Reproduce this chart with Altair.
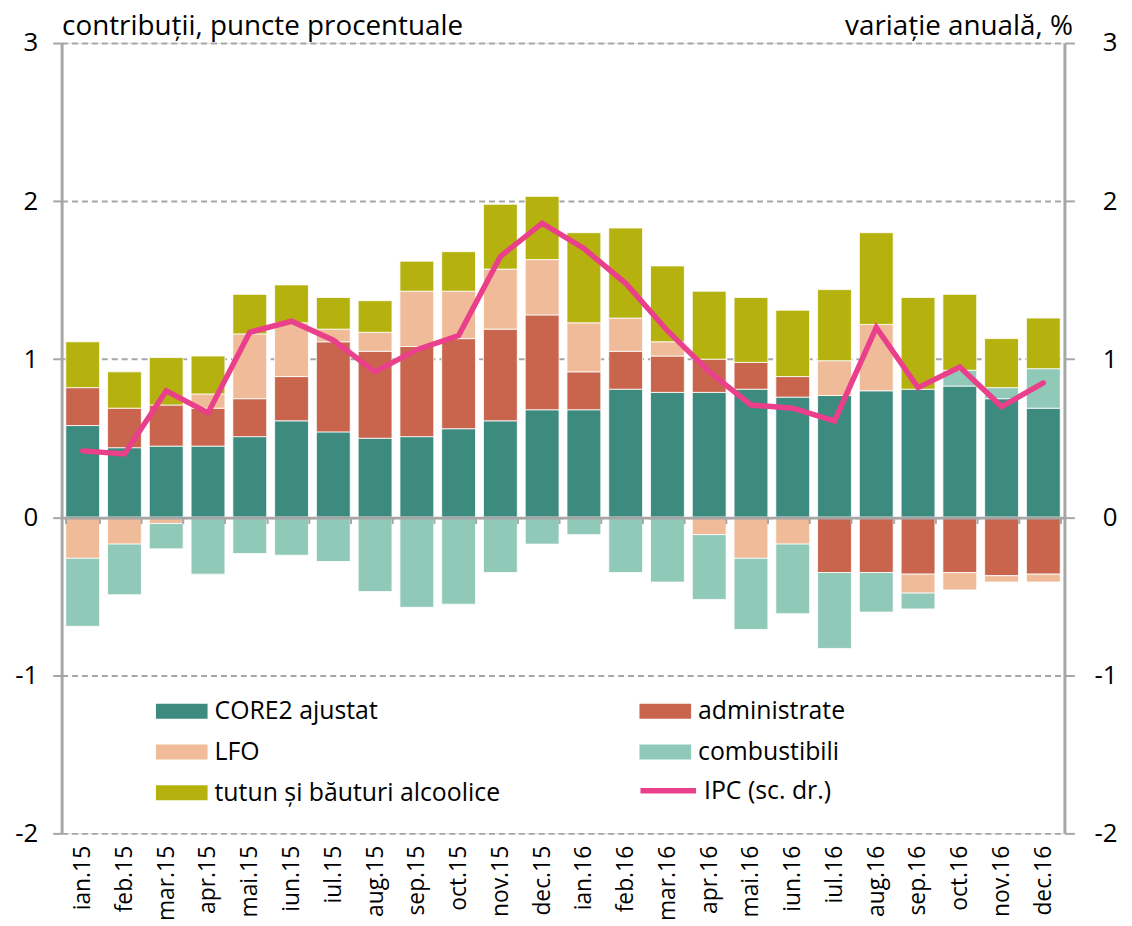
import altair as alt
import pandas as pd

months = ["ian.15", "feb.15", "mar.15", "apr.15", "mai.15", "iun.15", "iul.15", "aug.15",
          "sep.15", "oct.15", "nov.15", "dec.15", "ian.16", "feb.16", "mar.16", "apr.16",
          "mai.16", "iun.16", "iul.16", "aug.16", "sep.16", "oct.16", "nov.16", "dec.16"]

series_names = ["CORE2 ajustat", "administrate", "LFO", "combustibili",
                "tutun și băuturi alcoolice"]
series_colors = ["#3d8a7f", "#c8654c", "#efbb98", "#91c9b9", "#b5b20f"]

core2 = [0.58, 0.44, 0.45, 0.45, 0.51, 0.61, 0.54, 0.50, 0.51, 0.56, 0.61, 0.68,
         0.68, 0.81, 0.79, 0.79, 0.81, 0.76, 0.77, 0.80, 0.81, 0.83, 0.75, 0.69]
administrate = [0.24, 0.25, 0.26, 0.24, 0.24, 0.28, 0.57, 0.55, 0.57, 0.57, 0.58, 0.60,
                0.24, 0.24, 0.23, 0.21, 0.17, 0.13, -0.35, -0.35, -0.36, -0.35, -0.37, -0.36]
lfo = [-0.26, -0.17, -0.04, 0.09, 0.41, 0.34, 0.08, 0.12, 0.35, 0.30, 0.38, 0.35,
       0.31, 0.21, 0.09, -0.11, -0.26, -0.17, 0.22, 0.42, -0.12, -0.11, -0.04, -0.05]
combustibili = [-0.43, -0.32, -0.16, -0.36, -0.23, -0.24, -0.28, -0.47, -0.57, -0.55, -0.35, -0.17,
                -0.11, -0.35, -0.41, -0.41, -0.45, -0.44, -0.48, -0.25, -0.10, 0.10, 0.07, 0.25]
tutun = [0.29, 0.23, 0.30, 0.24, 0.25, 0.24, 0.20, 0.20, 0.19, 0.25, 0.41, 0.40,
         0.57, 0.57, 0.48, 0.43, 0.41, 0.42, 0.45, 0.58, 0.58, 0.48, 0.31, 0.32]
ipc = [0.42, 0.40, 0.80, 0.66, 1.17, 1.24, 1.12, 0.92, 1.06, 1.15, 1.65, 1.86,
       1.70, 1.48, 1.18, 0.92, 0.71, 0.69, 0.61, 1.20, 0.82, 0.95, 0.70, 0.85]

y_ticks = [-2, -1, 0, 1, 2, 3]
ipc_label = "IPC (sc. dr.)"

FONT = "Open Sans"
GRAY = "#a6a6a6"

rows = []
for k, (name, vals) in enumerate(zip(series_names, [core2, administrate, lfo, combustibili, tutun])):
    for m, v in zip(months, vals):
        rows.append({"month": m, "series": name, "value": v, "ord": k})
bars_df = pd.DataFrame(rows)
line_df = pd.DataFrame({"month": months, "ipc": ipc, "lbl": ipc_label})

x_enc = alt.X(
    "month:N", sort=months,
    scale=alt.Scale(paddingInner=0.19, paddingOuter=0.1),
    axis=alt.Axis(
        title=None, offset=-318, orient="bottom",
        domainColor=GRAY, domainWidth=3,
        ticks=True, tickBand="extent", tickColor=GRAY, tickWidth=2, tickSize=6,
        labelAngle=-90, labelFont=FONT, labelFontSize=23, labelColor="black",
        labelPadding=324, zindex=1,
    ),
)

bars = alt.Chart(bars_df).mark_bar(stroke="white", strokeWidth=0.8).encode(
    x=x_enc,
    y=alt.Y(
        "value:Q", stack="zero",
        scale=alt.Scale(domain=[-2, 3], nice=False, zero=False),
        axis=alt.Axis(
            values=y_ticks, labelExpr="'' + datum.value", orient="left",
            title="contribuții, puncte procentuale", titleAngle=0, titleAlign="left",
            titleBaseline="alphabetic", titleX=0, titleY=-9,
            titleFont=FONT, titleFontSize=28, titleFontWeight="normal", titleColor="black",
            labelFont=FONT, labelFontSize=26, labelColor="black", labelPadding=15,
            domainColor=GRAY, domainWidth=3, tickColor=GRAY, tickWidth=2, tickSize=9,
            grid=True, gridColor=GRAY, gridDash=[6, 4], gridWidth=2,
        ),
    ),
    color=alt.Color(
        "series:N",
        scale=alt.Scale(domain=series_names, range=series_colors),
        legend=alt.Legend(
            title=None, orient="none", legendX=95, legendY=647, columns=2,
            direction="horizontal",
            columnPadding=140, rowPadding=2, padding=0,
            symbolType="M-1,-0.29H1V0.29H-1Z", symbolSize=2704, symbolStrokeWidth=0,
            symbolOpacity=1, labelFont=FONT, labelFontSize=25, labelColor="black",
            labelOffset=7, labelLimit=400,
        ),
    ),
    order=alt.Order("ord:Q", sort="ascending"),
)

line = alt.Chart(line_df).mark_line(strokeWidth=5.5, strokeCap="round", strokeJoin="miter").encode(
    x=alt.X("month:N", sort=months),
    y=alt.Y(
        "ipc:Q",
        scale=alt.Scale(domain=[-2, 3], nice=False, zero=False),
        axis=alt.Axis(
            values=y_ticks, labelExpr="'' + datum.value", orient="right",
            title="variație anuală, %", titleAngle=0, titleAlign="right",
            titleBaseline="alphabetic", titleX=8, titleY=-9,
            titleFont=FONT, titleFontSize=28, titleFontWeight="normal", titleColor="black",
            labelFont=FONT, labelFontSize=26, labelColor="black", labelPadding=43,
            labelAlign="right",
            domainColor=GRAY, domainWidth=3, tickColor=GRAY, tickWidth=2, tickSize=10,
            grid=False,
        ),
    ),
    stroke=alt.Stroke(
        "lbl:N",
        scale=alt.Scale(domain=[ipc_label], range=["#ea3f8b"]),
        legend=alt.Legend(
            title=None, orient="none", legendX=580, legendY=722, padding=0,
            symbolType="stroke", symbolSize=3136, symbolStrokeWidth=5.5,
            labelFont=FONT, labelFontSize=25, labelColor="black", labelOffset=5,
        ),
    ),
)

chart = alt.layer(bars, line).resolve_scale(
    y="independent", color="independent", stroke="independent"
).properties(
    width=1010, height=796,
    autosize="none",
    padding={"left": 54, "top": 32, "right": 60, "bottom": 90},
).configure_view(stroke=None).configure(background="white")

chart.save("out.html", embed_options={"renderer": "svg", "actions": False})
